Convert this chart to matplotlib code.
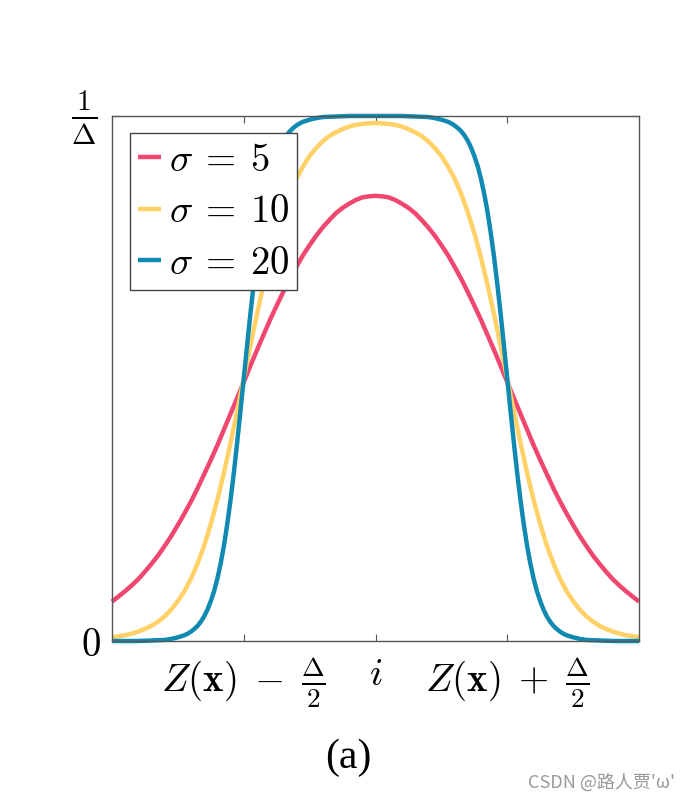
import numpy as np
import matplotlib
matplotlib.use("Agg")
import matplotlib.pyplot as plt
import matplotlib.transforms as mtransforms

plt.rcParams['mathtext.fontset'] = 'cm'

# bin response, x in units of Delta around the bin centre i
x_s5 = [-1.0, -0.975, -0.95, -0.925, -0.9, -0.875, -0.85, -0.825, -0.8, -0.775,
        -0.75, -0.725, -0.7, -0.675, -0.65, -0.625, -0.6, -0.575, -0.55, -0.525,
        -0.5, -0.475, -0.45, -0.425, -0.4, -0.375, -0.35, -0.325, -0.3, -0.275,
        -0.25, -0.225, -0.2, -0.175, -0.15, -0.125, -0.1, -0.075, -0.05, -0.025,
        0.0, 0.025, 0.05, 0.075, 0.1, 0.125, 0.15, 0.175, 0.2, 0.225,
        0.25, 0.275, 0.3, 0.325, 0.35, 0.375, 0.4, 0.425, 0.45, 0.475,
        0.5, 0.525, 0.55, 0.575, 0.6, 0.625, 0.65, 0.675, 0.7, 0.725,
        0.75, 0.775, 0.8, 0.825, 0.85, 0.875, 0.9, 0.925, 0.95, 0.975, 1.0]
y_s5 = [0.075, 0.085, 0.095, 0.106, 0.118, 0.132, 0.147, 0.163, 0.181, 0.200,
        0.221, 0.243, 0.266, 0.291, 0.318, 0.345, 0.373, 0.403, 0.433, 0.463,
        0.493, 0.524, 0.554, 0.583, 0.612, 0.639, 0.665, 0.690, 0.713, 0.735,
        0.754, 0.772, 0.788, 0.802, 0.815, 0.825, 0.833, 0.840, 0.845, 0.847,
        0.848, 0.847, 0.845, 0.840, 0.833, 0.825, 0.815, 0.802, 0.788, 0.772,
        0.754, 0.735, 0.713, 0.690, 0.665, 0.639, 0.612, 0.583, 0.554, 0.524,
        0.493, 0.463, 0.433, 0.403, 0.373, 0.345, 0.318, 0.291, 0.266, 0.243,
        0.221, 0.200, 0.181, 0.163, 0.147, 0.132, 0.118, 0.106, 0.095, 0.085, 0.075]

x_s10 = [-1.0, -0.975, -0.95, -0.925, -0.9, -0.875, -0.85, -0.825, -0.8, -0.775,
         -0.75, -0.725, -0.7, -0.675, -0.65, -0.625, -0.6, -0.575, -0.55, -0.525,
         -0.5, -0.475, -0.45, -0.425, -0.4, -0.375, -0.35, -0.325, -0.3, -0.275,
         -0.25, -0.225, -0.2, -0.175, -0.15, -0.125, -0.1, -0.075, -0.05, -0.025,
         0.0, 0.025, 0.05, 0.075, 0.1, 0.125, 0.15, 0.175, 0.2, 0.225,
         0.25, 0.275, 0.3, 0.325, 0.35, 0.375, 0.4, 0.425, 0.45, 0.475,
         0.5, 0.525, 0.55, 0.575, 0.6, 0.625, 0.65, 0.675, 0.7, 0.725,
         0.75, 0.775, 0.8, 0.825, 0.85, 0.875, 0.9, 0.925, 0.95, 0.975, 1.0]
y_s10 = [0.007, 0.009, 0.011, 0.014, 0.018, 0.023, 0.029, 0.037, 0.047, 0.060,
         0.076, 0.095, 0.119, 0.148, 0.182, 0.223, 0.269, 0.321, 0.378, 0.438,
         0.500, 0.562, 0.622, 0.679, 0.731, 0.777, 0.817, 0.852, 0.881, 0.904,
         0.924, 0.939, 0.952, 0.962, 0.969, 0.975, 0.980, 0.983, 0.985, 0.986,
         0.987, 0.986, 0.985, 0.983, 0.980, 0.975, 0.969, 0.962, 0.952, 0.939,
         0.924, 0.904, 0.881, 0.852, 0.817, 0.777, 0.731, 0.679, 0.622, 0.562,
         0.500, 0.438, 0.378, 0.321, 0.269, 0.223, 0.182, 0.148, 0.119, 0.095,
         0.076, 0.060, 0.047, 0.037, 0.029, 0.023, 0.018, 0.014, 0.011, 0.009, 0.007]

x_s20 = [-1.0, -0.95, -0.9, -0.85, -0.8, -0.775, -0.75, -0.7375, -0.725, -0.7125,
         -0.7, -0.6875, -0.675, -0.6625, -0.65, -0.6375, -0.625, -0.6125, -0.6, -0.5875,
         -0.575, -0.5625, -0.55, -0.5375, -0.525, -0.5125, -0.5, -0.4875, -0.475, -0.4625,
         -0.45, -0.4375, -0.425, -0.4125, -0.4, -0.3875, -0.375, -0.3625, -0.35, -0.3375,
         -0.325, -0.3125, -0.3, -0.2875, -0.275, -0.2625, -0.25, -0.225, -0.2, -0.15,
         -0.1, -0.05, 0.0, 0.05, 0.1, 0.15, 0.2, 0.225, 0.25, 0.2625,
         0.275, 0.2875, 0.3, 0.3125, 0.325, 0.3375, 0.35, 0.3625, 0.375, 0.3875,
         0.4, 0.4125, 0.425, 0.4375, 0.45, 0.4625, 0.475, 0.4875, 0.5, 0.5125,
         0.525, 0.5375, 0.55, 0.5625, 0.575, 0.5875, 0.6, 0.6125, 0.625, 0.6375,
         0.65, 0.6625, 0.675, 0.6875, 0.7, 0.7125, 0.725, 0.7375, 0.75, 0.775,
         0.8, 0.85, 0.9, 0.95, 1.0]
y_s20 = [0.000, 0.000, 0.000, 0.001, 0.002, 0.004, 0.007, 0.009, 0.011, 0.014,
         0.018, 0.023, 0.029, 0.037, 0.047, 0.060, 0.076, 0.095, 0.119, 0.148,
         0.182, 0.223, 0.269, 0.321, 0.378, 0.438, 0.500, 0.562, 0.622, 0.679,
         0.731, 0.777, 0.818, 0.852, 0.881, 0.905, 0.924, 0.940, 0.953, 0.963,
         0.971, 0.977, 0.982, 0.986, 0.989, 0.991, 0.993, 0.996, 0.998, 0.999,
         1.000, 1.000, 1.000, 1.000, 1.000, 0.999, 0.998, 0.996, 0.993, 0.991,
         0.989, 0.986, 0.982, 0.977, 0.971, 0.963, 0.953, 0.940, 0.924, 0.905,
         0.881, 0.852, 0.818, 0.777, 0.731, 0.679, 0.622, 0.562, 0.500, 0.438,
         0.378, 0.321, 0.269, 0.223, 0.182, 0.148, 0.119, 0.095, 0.076, 0.060,
         0.047, 0.037, 0.029, 0.023, 0.018, 0.014, 0.011, 0.009, 0.007, 0.004,
         0.002, 0.001, 0.000, 0.000, 0.000]

labels = [r'$\sigma\:=\:5$', r'$\sigma\:=\:10$', r'$\sigma\:=\:20$']
colors = ['#EF476F', '#FFD166', '#118AB2']

xtick_pos = [-0.5, 0.0, 0.5]
xtick_labels = [r'$Z(\mathbf{x})\;-\;\frac{\boldsymbol{\Delta}}{\mathbf{2}}$', r'$i$',
                r'$Z(\mathbf{x})\;+\;\frac{\boldsymbol{\Delta}}{\mathbf{2}}$']
ytick_pos = [0, 1]
ytick_labels = [r'$0$', r'$\frac{1}{\Delta}$']

fig = plt.figure(figsize=(6.87, 8.08), dpi=100)
ax = fig.add_axes([112 / 687, 1 - 641 / 808, 527 / 687, 525 / 808])

for xs, ys, lab, c in zip([x_s5, x_s10, x_s20], [y_s5, y_s10, y_s20], labels, colors):
    ax.plot(xs, ys, color=c, lw=3.2, label=lab, clip_on=False,
            solid_capstyle='butt', solid_joinstyle='round')

ax.set_xlim(-1, 1)
ax.set_ylim(0, 1)
ax.set_xticks(xtick_pos)
ax.set_xticklabels(xtick_labels, fontsize=28)
ax.set_yticks(ytick_pos)
ax.set_yticklabels(ytick_labels, fontsize=28)
ax.tick_params(direction='in', top=True, right=True, length=5, width=0.8,
               color='#555555')
ax.tick_params(axis='x', pad=10)
ax.tick_params(axis='y', pad=8)
for sp in ax.spines.values():
    sp.set_color('#555555')
    sp.set_linewidth(1.0)

# lift the 1/Delta label so its bar sits on the top spine
top_lab = ax.get_yticklabels()[1]
top_lab.set_transform(top_lab.get_transform() +
                      mtransforms.ScaledTranslation(-4 / 100, 8 / 100, fig.dpi_scale_trans))
top_lab.set_fontsize(30)

leg = ax.legend(loc='upper left', bbox_to_anchor=(18 / 527, 1 - 17 / 525), fontsize=28,
                handlelength=0.6, handletextpad=0.2, labelspacing=0.35,
                borderpad=0.2, borderaxespad=0, fancybox=False, framealpha=1)
leg.get_frame().set_edgecolor('#444444')
leg.get_frame().set_linewidth(1.0)

fig.text(348 / 687, 1 - 758 / 808, '(a)', fontsize=30, family='Liberation Serif',
         ha='center', va='center')
fig.text(675 / 687, 1 - 783 / 808, "CSDN @路人贾'ω'", fontsize=13, color='#999999',
         family=['Noto Sans CJK SC', 'DejaVu Sans'], ha='right', va='center')

fig.savefig('out.png', dpi=100)
